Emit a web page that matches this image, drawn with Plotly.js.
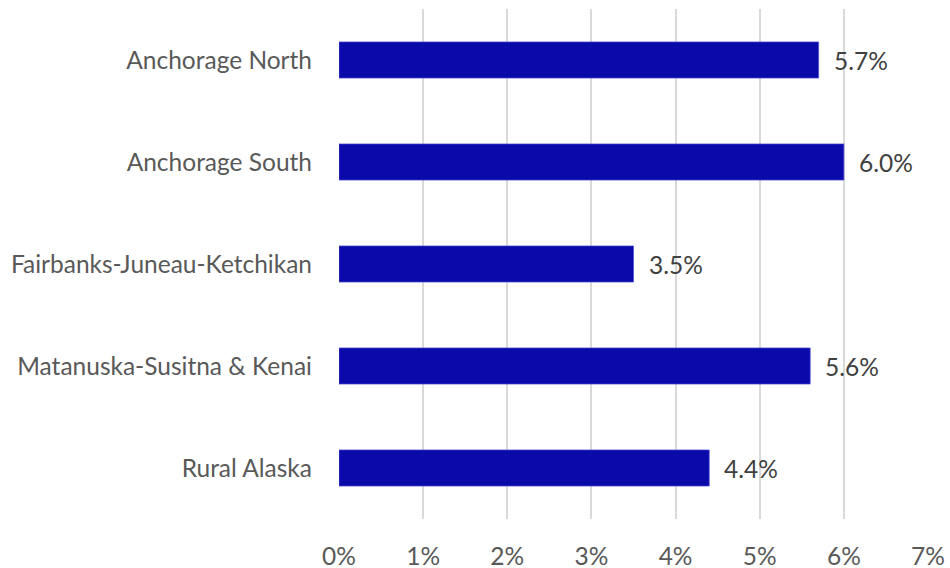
<!DOCTYPE html>
<html>
<head>
<meta charset="utf-8">
<script src="https://cdn.plot.ly/plotly-3.0.1.min.js"></script>
<style>html,body{margin:0;padding:0;background:#fff;}#chart{width:950px;height:568px;}</style>
</head>
<body>
<div id="chart"></div>
<script>
const regions = ["Anchorage North", "Anchorage South", "Fairbanks-Juneau-Ketchikan", "Matanuska-Susitna & Kenai", "Rural Alaska"];
const rates = [0.057, 0.060, 0.035, 0.056, 0.044];
const xTicks = [0, 0.01, 0.02, 0.03, 0.04, 0.05, 0.06, 0.07];

const FONT = "Lato, Open Sans, sans-serif";
const trace = {
  type: "bar",
  orientation: "h",
  y: regions,
  x: rates,
  marker: {color: "#0A0AAA", line: {color: "#4a4ad6", width: 0.7}},
  hoverinfo: "skip"
};
const annotations = regions.map((r, i) => ({
  x: rates[i], y: r, xref: "x", yref: "y",
  text: (rates[i] * 100).toFixed(1) + "%",
  showarrow: false, xanchor: "left", xshift: 13,
  font: {family: FONT, size: 24.5, color: "#404040"}
}));
const layout = {
  width: 950, height: 568,
  margin: {l: 339, r: 22, t: 9, b: 49},
  paper_bgcolor: "#fff", plot_bgcolor: "#fff",
  showlegend: false,
  bargap: 0.646,
  xaxis: {
    range: [0, 0.07], tickvals: xTicks, tickformat: ".0%",
    showgrid: true, gridcolor: "#d9d9d9", gridwidth: 2,
    zeroline: false, showline: false, ticks: "",
    ticklabelstandoff: 20,
    tickfont: {family: FONT, size: 24.5, color: "#595959"},
    fixedrange: true
  },
  yaxis: {
    autorange: "reversed", showgrid: false, zeroline: false, showline: false,
    ticks: "", ticklabelstandoff: 26,
    tickfont: {family: FONT, size: 24.5, color: "#595959"},
    fixedrange: true
  },
  annotations: annotations
};
Plotly.newPlot("chart", [trace], layout, {displayModeBar: false, staticPlot: true});
</script>
</body>
</html>
